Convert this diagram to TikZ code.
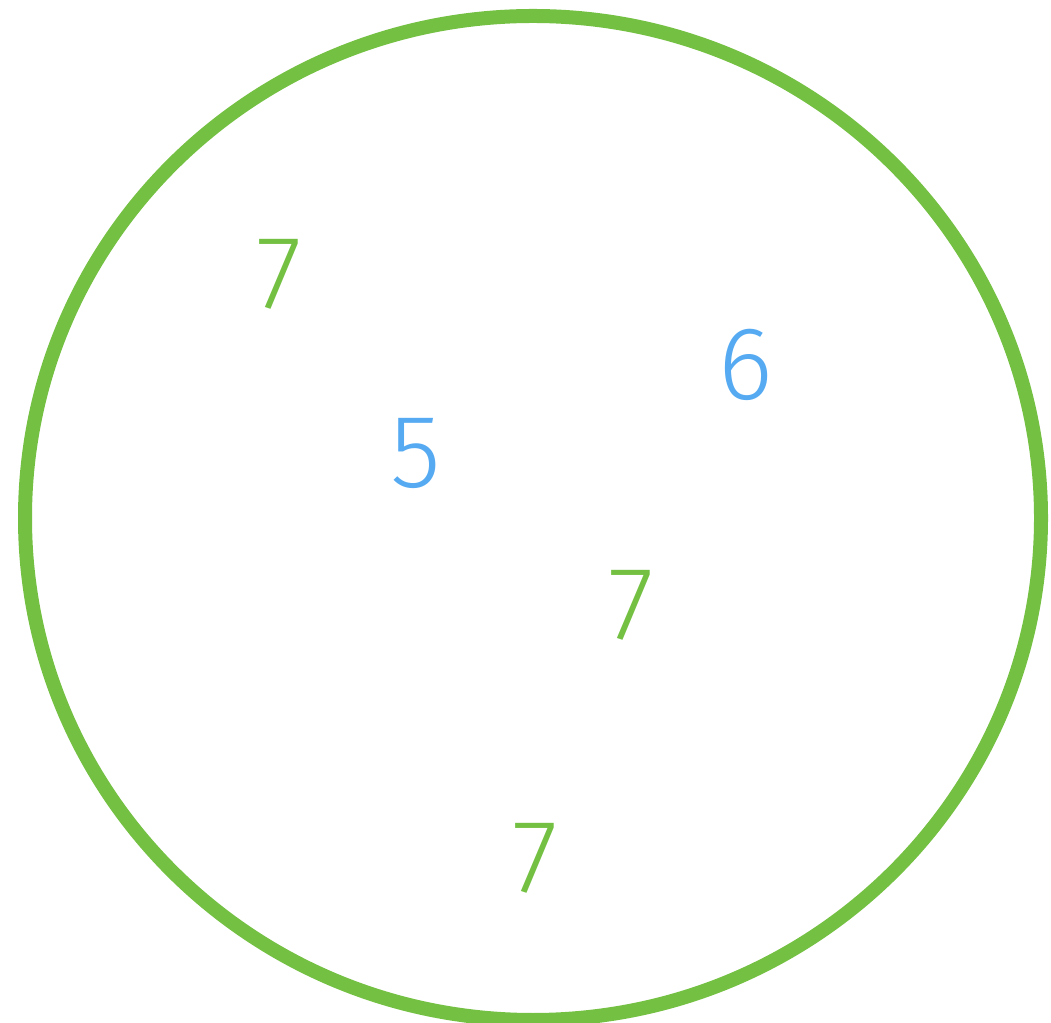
\documentclass[tikz,border=0pt]{standalone}
\usepackage{fontspec}
\newfontfamily\digitfont{Fira Sans Light}
\definecolor{ringgreen}{HTML}{74C043}
\definecolor{digblue}{HTML}{55AAF2}
\begin{document}
\begin{tikzpicture}[x=1pt,y=1pt,
  dig/.style={inner sep=0pt,anchor=base,font=\digitfont\fontsize{104}{104}\selectfont},
  g/.style={dig,text=ringgreen},
  b/.style={dig,text=digblue}]
\useasboundingbox (0,0) rectangle (1051,1022);
\draw[ringgreen,line width=14pt] (533,504) ellipse [x radius=508, y radius=502];
\node[g] (s1) at (279,713) {7};
\node[b] (s2) at (746,622) {6};
\node[b] (s3) at (416,534) {5};
\node[g] (s4) at (631,382) {7};
\node[g] (s5) at (535,129) {7};
\end{tikzpicture}
\end{document}
